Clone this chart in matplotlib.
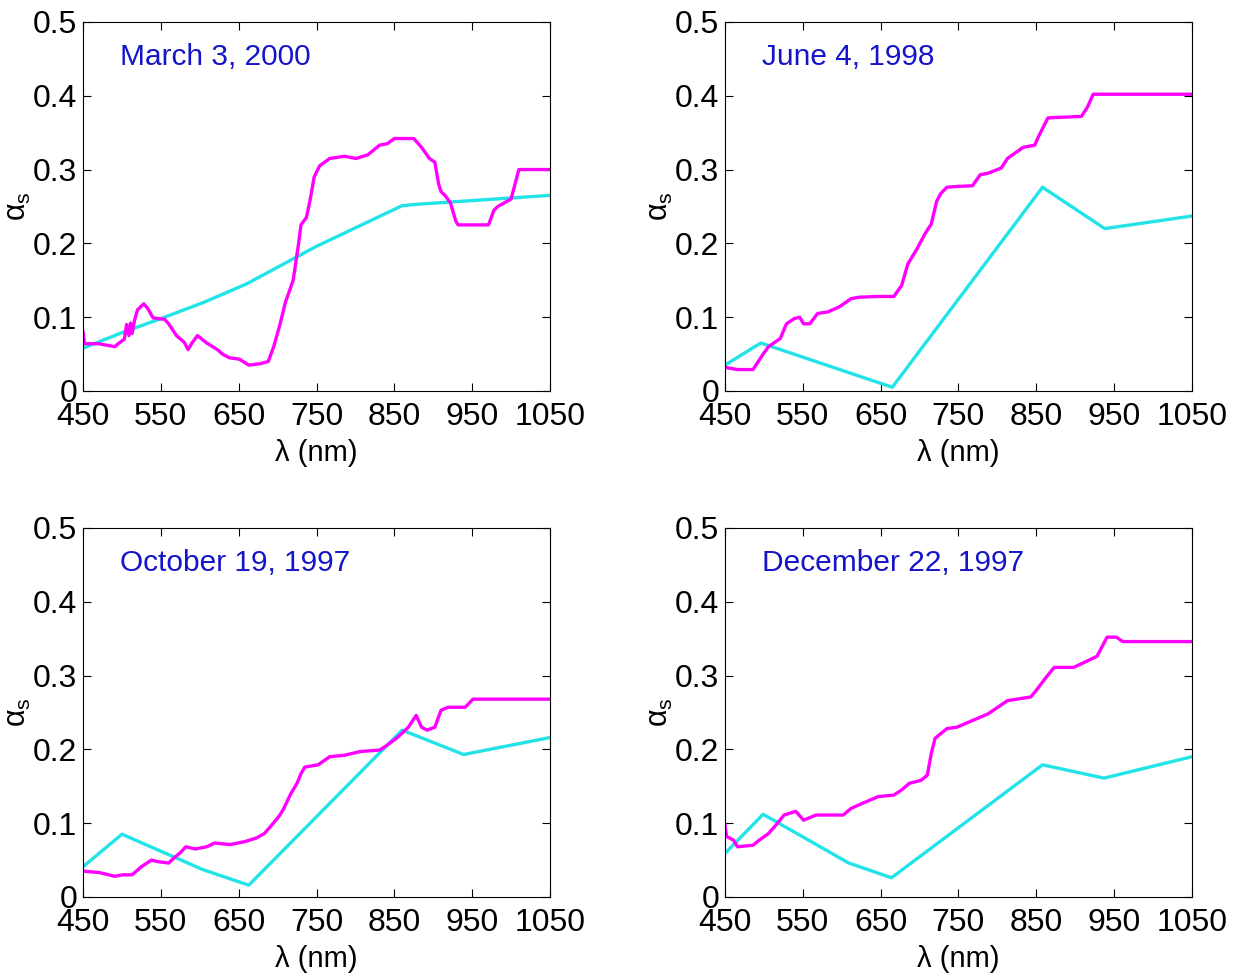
import matplotlib.pyplot as plt

plt.rcParams['font.family'] = ['Liberation Sans', 'DejaVu Sans']
plt.rcParams['mathtext.fontset'] = 'custom'
plt.rcParams['mathtext.rm'] = 'Liberation Sans'
plt.rcParams['mathtext.it'] = 'Liberation Sans'

# --- data ---
titles = ['March 3, 2000', 'June 4, 1998', 'October 19, 1997', 'December 22, 1997']

# cyan (model / band values)
mar_cy_x = [450, 500, 550, 605, 660, 750, 860, 880, 1050]
mar_cy_y = [0.058, 0.079, 0.098, 0.120, 0.145, 0.196, 0.251, 0.253, 0.265]
jun_cy_x = [450, 496, 665, 858, 938, 1050]
jun_cy_y = [0.035, 0.065, 0.005, 0.276, 0.220, 0.237]
oct_cy_x = [450, 500, 604, 663, 860, 939, 1050]
oct_cy_y = [0.041, 0.085, 0.037, 0.016, 0.226, 0.193, 0.216]
dec_cy_x = [450, 499, 609, 664, 858, 937, 1050]
dec_cy_y = [0.059, 0.112, 0.046, 0.026, 0.179, 0.161, 0.190]

# magenta (measured spectra)
mar_mg_x = [450, 452, 470, 491, 495, 503, 506, 509, 511, 513, 516, 520, 528, 533, 540,
            555, 560, 570, 580, 585, 590, 597, 609, 624, 629, 638, 651, 663, 678, 688,
            695, 703, 710, 720, 727, 730, 737, 742, 747, 754, 767, 786, 801, 816, 831,
            841, 850, 875, 885, 895, 902, 907, 910, 915, 922, 929, 932, 971, 978, 983,
            1000, 1010, 1050]
mar_mg_y = [0.080, 0.064, 0.064, 0.060, 0.064, 0.070, 0.090, 0.075, 0.092, 0.078, 0.095,
            0.110, 0.118, 0.112, 0.099, 0.097, 0.091, 0.075, 0.066, 0.056, 0.065, 0.075,
            0.065, 0.055, 0.050, 0.045, 0.043, 0.035, 0.037, 0.040, 0.060, 0.090, 0.120,
            0.150, 0.200, 0.225, 0.235, 0.260, 0.290, 0.305, 0.315, 0.318, 0.315, 0.320,
            0.333, 0.335, 0.342, 0.342, 0.330, 0.315, 0.310, 0.280, 0.270, 0.265, 0.255,
            0.230, 0.225, 0.225, 0.245, 0.250, 0.260, 0.300, 0.300]
jun_mg_x = [450, 466, 486, 491, 499, 506, 521, 529, 539, 546, 551, 559, 569, 582, 597,
            612, 622, 645, 667, 677, 685, 697, 707, 715, 722, 727, 735, 747, 768, 778,
            788, 805, 813, 833, 848, 853, 865, 908, 916, 923, 1050]
jun_mg_y = [0.032, 0.029, 0.029, 0.037, 0.050, 0.060, 0.071, 0.091, 0.098, 0.100, 0.091,
            0.091, 0.105, 0.107, 0.114, 0.125, 0.127, 0.128, 0.128, 0.143, 0.172, 0.193,
            0.213, 0.226, 0.257, 0.267, 0.276, 0.277, 0.278, 0.293, 0.295, 0.302, 0.315,
            0.330, 0.333, 0.345, 0.370, 0.372, 0.385, 0.402, 0.402]
oct_mg_x = [450, 471, 491, 501, 513, 525, 538, 545, 560, 567, 575, 582, 594, 609, 619,
            639, 658, 673, 683, 693, 703, 708, 717, 725, 730, 735, 752, 767, 786, 806,
            831, 840, 855, 868, 878, 885, 892, 902, 910, 919, 941, 951, 1050]
oct_mg_y = [0.035, 0.033, 0.028, 0.030, 0.030, 0.041, 0.050, 0.048, 0.046, 0.053, 0.060,
            0.068, 0.065, 0.068, 0.073, 0.071, 0.075, 0.080, 0.086, 0.098, 0.111, 0.120,
            0.140, 0.154, 0.167, 0.176, 0.179, 0.190, 0.192, 0.197, 0.199, 0.205, 0.217,
            0.230, 0.246, 0.230, 0.226, 0.230, 0.253, 0.257, 0.257, 0.268, 0.268]
dec_mg_x = [450, 452, 461, 466, 486, 494, 506, 516, 526, 541, 551, 567, 602, 612, 627,
            647, 667, 677, 687, 702, 710, 715, 720, 727, 735, 748, 768, 788, 813, 843,
            850, 863, 873, 898, 908, 928, 941, 953, 961, 1050]
dec_mg_y = [0.098, 0.082, 0.077, 0.068, 0.070, 0.077, 0.086, 0.098, 0.111, 0.116, 0.104,
            0.111, 0.111, 0.120, 0.127, 0.136, 0.138, 0.145, 0.154, 0.158, 0.165, 0.194,
            0.215, 0.221, 0.228, 0.230, 0.239, 0.248, 0.266, 0.271, 0.280, 0.298, 0.311,
            0.311, 0.316, 0.326, 0.352, 0.352, 0.346, 0.346]

xticks = [450, 550, 650, 750, 850, 950, 1050]
yticks = [0, 0.1, 0.2, 0.3, 0.4, 0.5]
ytick_labels = ['0', '0.1', '0.2', '0.3', '0.4', '0.5']

panels = [
    (mar_cy_x, mar_cy_y, mar_mg_x, mar_mg_y),
    (jun_cy_x, jun_cy_y, jun_mg_x, jun_mg_y),
    (oct_cy_x, oct_cy_y, oct_mg_x, oct_mg_y),
    (dec_cy_x, dec_cy_y, dec_mg_x, dec_mg_y),
]

# axes boxes in figure fractions
boxes = [
    [0.0673, 0.5986, 0.3784, 0.3789],
    [0.5875, 0.5986, 0.3784, 0.3789],
    [0.0673, 0.0791, 0.3784, 0.3789],
    [0.5875, 0.0791, 0.3784, 0.3789],
]

fig = plt.figure(figsize=(12.34, 9.74), dpi=100)
fs = 23

for box, title, (cx, cy, mx, my) in zip(boxes, titles, panels):
    ax = fig.add_axes(box)
    ax.plot(cx, cy, color='#22e3e8', linewidth=2.4)
    ax.plot(mx, my, color='#ff00ff', linewidth=2.4)
    ax.set_xlim(450, 1050)
    ax.set_ylim(0, 0.5)
    ax.set_xticks(xticks)
    ax.set_yticks(yticks)
    ax.set_yticklabels(ytick_labels)
    ax.tick_params(direction='in', top=True, right=True, length=6, width=0.8,
                   labelsize=fs)
    ax.tick_params(axis='x', pad=8)
    ax.tick_params(axis='y', pad=4)
    for s in ax.spines.values():
        s.set_linewidth(0.8)
    ax.set_xlabel('λ (nm)', fontsize=21, labelpad=5)
    ax.set_ylabel(r'$\mathregular{\alpha_s}$', fontsize=22, labelpad=0)
    ax.text(0.08, 0.905, title, transform=ax.transAxes, color='#1414c8',
            fontsize=21.5, va='center', ha='left')

fig.savefig('out.png', dpi=100)
